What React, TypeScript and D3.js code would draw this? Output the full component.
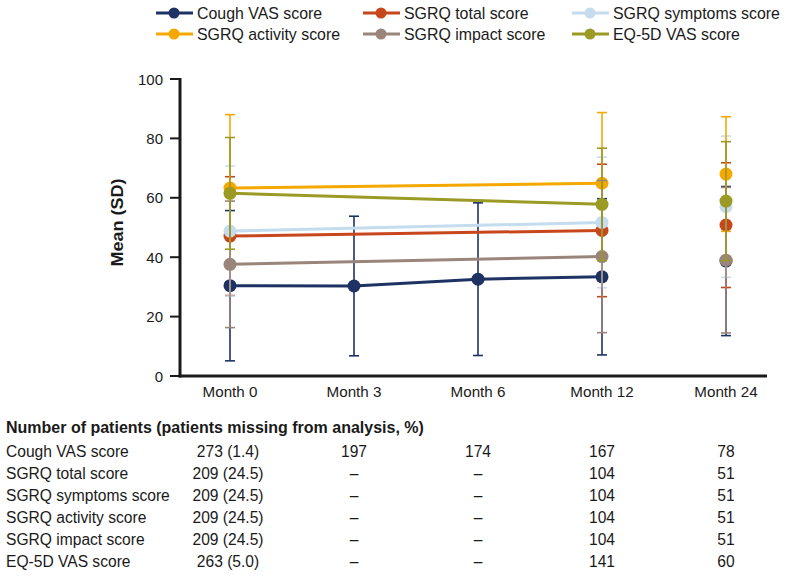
import React from "react";
import * as d3 from "d3";

const months = ["Month 0", "Month 3", "Month 6", "Month 12", "Month 24"];
const seriesNames = [
  "Cough VAS score",
  "SGRQ total score",
  "SGRQ symptoms score",
  "SGRQ activity score",
  "SGRQ impact score",
  "EQ-5D VAS score",
];
const seriesColors = ["#1e3264", "#c8461c", "#c4dcee", "#f5a900", "#9a857b", "#9a9a24"];

const coughMean = [30.4, 30.3, 32.6, 33.4, 38.7];
const coughSD = [25.3, 23.5, 25.7, 26.3, 25.1];
const totalMean = [47.1, null, null, 49.0, 50.8];
const totalSD = [20.0, null, null, 22.3, 21.0];
const symptomsMean = [48.8, null, null, 51.7, 57.0];
const symptomsSD = [21.9, null, null, 22.0, 23.8];
const activityMean = [63.3, null, null, 64.9, 68.0];
const activitySD = [24.7, null, null, 23.8, 19.3];
const impactMean = [37.6, null, null, 40.2, 39.0];
const impactSD = [21.3, null, null, 25.6, 24.5];
const eqMean = [61.5, null, null, 57.8, 58.9];
const eqSD = [18.8, null, null, 18.9, 20.0];

const means = [coughMean, totalMean, symptomsMean, activityMean, impactMean, eqMean];
const sds = [coughSD, totalSD, symptomsSD, activitySD, impactSD, eqSD];

const yTicks = [0, 20, 40, 60, 80, 100];

const tableTitle = "Number of patients (patients missing from analysis, %)";
const tableRows = [
  ["273 (1.4)", "197", "174", "167", "78"],
  ["209 (24.5)", "–", "–", "104", "51"],
  ["209 (24.5)", "–", "–", "104", "51"],
  ["209 (24.5)", "–", "–", "104", "51"],
  ["209 (24.5)", "–", "–", "104", "51"],
  ["263 (5.0)", "–", "–", "141", "60"],
];

const FONT = "'Liberation Sans', Arial, sans-serif";
const INK = "#1a1a1a";

export default function App() {
  const W = 786;
  const H = 577;
  const axisX = 180;
  const axisRight = 767;
  const y = d3.scaleLinear().domain([0, 100]).range([376, 79]);
  const x = d3.scalePoint<string>().domain(months).range([230, 726]);

  const connected = months.slice(0, 4);

  return (
    <svg
      width={W}
      height={H}
      style={{ position: "absolute", left: 0, top: 0, background: "#fff" }}
      fontFamily={FONT}
    >
      {/* Legend */}
      {seriesNames.map((name, i) => {
        const col = i % 3;
        const row = Math.floor(i / 3);
        const lx = [156, 363, 572][col];
        const ly = [13, 34][row];
        return (
          <g key={name}>
            <line x1={lx} x2={lx + 37} y1={ly} y2={ly} stroke={seriesColors[i]} strokeWidth={3} />
            <circle cx={lx + 18} cy={ly} r={5.5} fill={seriesColors[i]} />
            <text x={lx + 41} y={ly + 5.5} fontSize={15.9} fill={INK}>
              {name}
            </text>
          </g>
        );
      })}

      {/* Y axis */}
      <line x1={axisX} x2={axisX} y1={y(100) - 1} y2={y(0) + 1.5} stroke={INK} strokeWidth={3} />
      {yTicks.map((t) => (
        <g key={t}>
          <line x1={axisX - 10} x2={axisX} y1={y(t)} y2={y(t)} stroke={INK} strokeWidth={2} />
          <text x={axisX - 17} y={y(t) + 5.5} fontSize={15} textAnchor="end" fill={INK}>
            {t}
          </text>
        </g>
      ))}
      <text
        transform={`translate(123, ${y(50) - 5}) rotate(-90)`}
        textAnchor="middle"
        fontSize={16.5}
        fontWeight="bold"
        fill={INK}
        textLength={88}
        lengthAdjust="spacingAndGlyphs"
      >
        Mean (SD)
      </text>

      {/* X axis */}
      <line x1={axisX - 1.5} x2={axisRight} y1={y(0)} y2={y(0)} stroke={INK} strokeWidth={3} />
      {months.map((m) => (
        <text key={m} x={x(m)} y={397} fontSize={15.2} textAnchor="middle" fill={INK}>
          {m}
        </text>
      ))}

      {/* Series */}
      {seriesNames.map((name, si) => {
        const mean = means[si];
        const sd = sds[si];
        const color = seriesColors[si];
        const pts = connected
          .map((m, i) => ({ m, v: mean[i] }))
          .filter((p) => p.v !== null) as { m: string; v: number }[];
        const lineGen = d3
          .line<{ m: string; v: number }>()
          .x((p) => x(p.m) as number)
          .y((p) => y(p.v));
        return (
          <g key={name}>
            {months.map((m, i) => {
              const v = mean[i];
              const s = sd[i];
              if (v === null || s === null) return null;
              const cx = x(m) as number;
              return (
                <g key={m}>
                  <line x1={cx} x2={cx} y1={y(v + s)} y2={y(v - s)} stroke={color} strokeWidth={1.6} />
                  <line x1={cx - 5} x2={cx + 5} y1={y(v + s)} y2={y(v + s)} stroke={color} strokeWidth={1.6} />
                  <line x1={cx - 5} x2={cx + 5} y1={y(v - s)} y2={y(v - s)} stroke={color} strokeWidth={1.6} />
                </g>
              );
            })}
            <path d={lineGen(pts) || ""} fill="none" stroke={color} strokeWidth={3} />
            {months.map((m, i) => {
              const v = mean[i];
              if (v === null) return null;
              return <circle key={m} cx={x(m)} cy={y(v)} r={6.5} fill={color} />;
            })}
          </g>
        );
      })}

      {/* Table */}
      <text x={6} y={433} fontSize={16} fontWeight="bold" fill={INK}>
        {tableTitle}
      </text>
      {seriesNames.map((name, ri) => {
        const ty = 456.5 + ri * 22;
        return (
          <g key={name}>
            <text x={6} y={ty} fontSize={15.6} fill={INK}>
              {name}
            </text>
            {tableRows[ri].map((cell, ci) => (
              <text
                key={ci}
                x={(x(months[ci]) as number) - (ci === 0 ? 2 : 0)}
                y={ty}
                fontSize={15.6}
                textAnchor="middle"
                fill={INK}
              >
                {cell}
              </text>
            ))}
          </g>
        );
      })}
    </svg>
  );
}
